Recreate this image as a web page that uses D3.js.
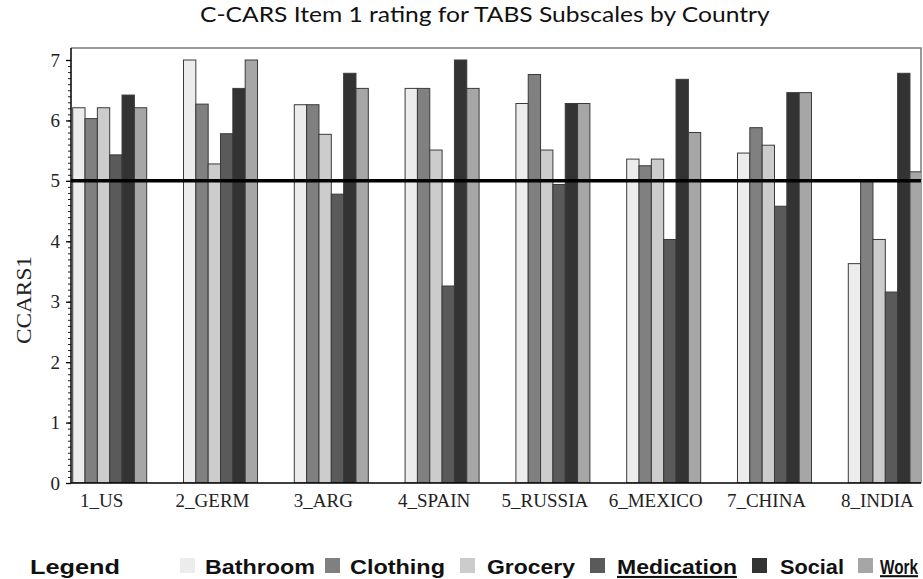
<!DOCTYPE html>
<html>
<head>
<meta charset="utf-8">
<script src="https://cdn.jsdelivr.net/npm/d3@7"></script>
<style>
  html, body { margin: 0; padding: 0; background: #fff; }
  svg { display: block; }
</style>
</head>
<body>
<svg id="chart" width="923" height="579"></svg>
<script>
// Countries (x categories)
const countries = ["1_US", "2_GERM", "3_ARG", "4_SPAIN", "5_RUSSIA", "6_MEXICO", "7_CHINA", "8_INDIA"];
// TABS subscales (bars within each country)
const subscales = ["Bathroom", "Clothing", "Grocery", "Medication", "Social", "Work"];
// Mean C-CARS item 1 rating per subscale, one value per country
const bathroom   = [6.21, 7.00, 6.26, 6.53, 6.28, 5.36, 5.46, 3.63];
const clothing   = [6.03, 6.27, 6.26, 6.53, 6.76, 5.25, 5.88, 5.00];
const grocery    = [6.21, 5.28, 5.77, 5.51, 5.51, 5.36, 5.59, 4.03];
const medication = [5.43, 5.78, 4.78, 3.26, 4.94, 4.03, 4.58, 3.16];
const social     = [6.42, 6.53, 6.78, 7.00, 6.28, 6.68, 6.46, 6.78];
const work       = [6.21, 7.00, 6.53, 6.53, 6.28, 5.80, 6.46, 5.15];
// Y axis labelled ticks and reference level
const yTicks = [0, 1, 2, 3, 4, 5, 6, 7];
const refLevel = 5;

const seriesValues = [bathroom, clothing, grocery, medication, social, work];
const fills = ["#ececec", "#808080", "#cccccc", "#5a5a5a", "#333333", "#a6a6a6"];
const underlined = { "Medication": true, "Work": true };

const svg = d3.select("#chart");
const plot = { left: 71, right: 921, top: 48, bottom: 483 };

const y = d3.scaleLinear().domain([0, 7]).range([plot.bottom, 60]);
const x0 = d3.scaleBand().domain(countries).range([72.7, 922.3]).paddingInner(0.332).paddingOuter(0).align(0);
const x1 = d3.scaleBand().domain(subscales).range([0, x0.bandwidth()]).padding(0);
const color = d3.scaleOrdinal().domain(subscales).range(fills);

// Squeeze or stretch a text horizontally so it spans the given width
function fitWidth(sel, x, yPos, width) {
  sel.each(function () {
    const natural = this.getComputedTextLength();
    const k = natural > 0 ? width / natural : 1;
    d3.select(this).attr("x", 0).attr("y", 0)
      .attr("transform", `translate(${x},${yPos}) scale(${k},1)`);
  });
}

// Title
svg.append("text")
  .attr("text-anchor", "start")
  .attr("font-family", "Lato, 'Open Sans', sans-serif")
  .attr("font-size", 22)
  .attr("fill", "#111")
  .text("C-CARS Item 1 rating for TABS Subscales by Country")
  .call(fitWidth, 200, 22, 570);

// Plot clip so the last bar is cut at the frame
svg.append("defs").append("clipPath").attr("id", "plotClip")
  .append("rect")
  .attr("x", plot.left).attr("y", plot.top)
  .attr("width", plot.right - plot.left).attr("height", plot.bottom - plot.top);

// Frame: top and right edges
svg.append("path")
  .attr("d", `M${plot.left},${plot.top}H${plot.right}V${plot.bottom}`)
  .attr("fill", "none").attr("stroke", "#7a7a7a").attr("stroke-width", 1.5);

// Bars
const rows = countries.map((c, i) => ({ country: c, values: subscales.map((s, j) => ({ key: s, value: seriesValues[j][i] })) }));
const groups = svg.append("g").attr("clip-path", "url(#plotClip)")
  .selectAll("g").data(rows).join("g")
  .attr("transform", d => `translate(${x0(d.country)},0)`);
groups.selectAll("rect").data(d => d.values).join("rect")
  .attr("x", d => x1(d.key))
  .attr("y", d => y(d.value))
  .attr("width", x1.bandwidth())
  .attr("height", d => y(0) - y(d.value))
  .attr("fill", d => color(d.key))
  .attr("stroke", "#3a3a3a").attr("stroke-width", 1);

// Reference line at 5
svg.append("line")
  .attr("x1", plot.left).attr("x2", plot.right)
  .attr("y1", y(refLevel)).attr("y2", y(refLevel))
  .attr("stroke", "#000").attr("stroke-width", 3.5);

// Y axis: minor ticks every 0.1, major labelled ticks on integers
const yAxis = svg.append("g").attr("transform", `translate(${plot.left},0)`);
yAxis.append("g")
  .call(d3.axisLeft(y).tickValues(d3.range(0, 71).map(v => v / 10)).tickSize(3).tickFormat(""))
  .call(g => g.select(".domain").remove())
  .call(g => g.selectAll("line").attr("stroke", "#222"));
yAxis.append("g")
  .call(d3.axisLeft(y).tickValues(yTicks).tickSize(5).tickPadding(6).tickFormat(d3.format("d")))
  .call(g => g.select(".domain").remove())
  .call(g => g.selectAll("line").attr("stroke", "#000").attr("stroke-width", 1.3))
  .call(g => g.selectAll("text")
    .attr("font-family", "'Liberation Serif', 'Times New Roman', serif")
    .attr("font-size", 19).attr("fill", "#222"));
yAxis.append("line")
  .attr("x1", 0).attr("x2", 0).attr("y1", plot.top).attr("y2", plot.bottom)
  .attr("stroke", "#000").attr("stroke-width", 1.5);

// X axis baseline and category labels
svg.append("line")
  .attr("x1", plot.left).attr("x2", plot.right)
  .attr("y1", plot.bottom).attr("y2", plot.bottom)
  .attr("stroke", "#000").attr("stroke-width", 1.5);
svg.append("g").attr("transform", `translate(-8,${plot.bottom})`)
  .call(d3.axisBottom(x0).tickSize(0).tickPadding(11))
  .call(g => g.select(".domain").remove())
  .call(g => g.selectAll("text")
    .attr("font-family", "'Liberation Serif', 'Times New Roman', serif")
    .attr("font-size", 19).attr("fill", "#222"));

// Y axis title
svg.append("text")
  .attr("transform", "translate(31,300) rotate(-90)")
  .attr("text-anchor", "middle")
  .attr("font-family", "'Liberation Serif', 'Times New Roman', serif")
  .attr("font-size", 20).attr("fill", "#222")
  .attr("textLength", 88).attr("lengthAdjust", "spacingAndGlyphs")
  .text("CCARS1");

// Legend
const legendBase = 574;
const legend = svg.append("g").attr("font-family", "'Liberation Sans', Arial, sans-serif")
  .attr("font-weight", "bold").attr("font-size", 21).attr("fill", "#111");
legend.append("text").text("Legend").call(fitWidth, 30, legendBase, 90);
const legendItems = [
  { key: "Bathroom", sx: 180, tx: 205, w: 110 },
  { key: "Clothing", sx: 325, tx: 350, w: 95 },
  { key: "Grocery", sx: 460, tx: 487, w: 88 },
  { key: "Medication", sx: 590, tx: 617, w: 120 },
  { key: "Social", sx: 752, tx: 780, w: 64 },
  { key: "Work", sx: 858, tx: 880, w: 38 }
];
const li = legend.selectAll("g.item").data(legendItems).join("g").attr("class", "item");
li.append("rect")
  .attr("x", d => d.sx).attr("y", legendBase - 16)
  .attr("width", 15).attr("height", 15)
  .attr("fill", d => color(d.key));
li.append("text")
  .attr("text-decoration", d => underlined[d.key] ? "underline" : null)
  .text(d => d.key)
  .each(function (d) { d3.select(this).call(fitWidth, d.tx, legendBase, d.w); });
</script>
</body>
</html>
